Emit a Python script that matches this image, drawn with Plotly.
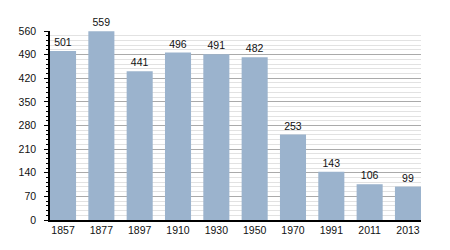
import plotly.graph_objects as go

years = ["1857", "1877", "1897", "1910", "1930", "1950", "1970", "1991", "2011", "2013"]
population = [501, 559, 441, 496, 491, 482, 253, 143, 106, 99]
y_ticks = [0, 70, 140, 210, 280, 350, 420, 490, 560]

FONT = "Liberation Sans, Arial, sans-serif"

fig = go.Figure(go.Bar(
    x=list(range(len(years))),
    y=population,
    marker=dict(color="#9bb3cd", line=dict(width=0)),
    text=[str(v) for v in population],
    textposition="outside",
    textfont=dict(family=FONT, size=10.5, color="#111"),
    cliponaxis=False,
))

fig.update_layout(
    width=450, height=250,
    margin=dict(l=50, r=29, t=31, b=30),
    paper_bgcolor="white", plot_bgcolor="white",
    bargap=0.32,
    showlegend=False,
    font=dict(family=FONT, size=10.5, color="#111"),
    xaxis=dict(
        tickmode="array", tickvals=list(range(len(years))), ticktext=years,
        range=[-0.34, len(years) - 1 + 0.34],
        showgrid=False, showline=True, linecolor="black", linewidth=1.5,
        ticks="", zeroline=False,
    ),
    yaxis=dict(
        range=[0, 560], tickmode="array", tickvals=y_ticks,
        showgrid=True, gridcolor="#aaaaaa", gridwidth=1,
        showline=True, linecolor="black", linewidth=1.5,
        ticks="outside", ticklen=4, tickcolor="black",
        ticklabelstandoff=6,
        zeroline=False,
        minor=dict(dtick=14, showgrid=True, gridcolor="#e2e2e2", gridwidth=1,
                   ticks="outside", ticklen=2, tickcolor="black"),
    ),
)

fig.write_html("out.html")
